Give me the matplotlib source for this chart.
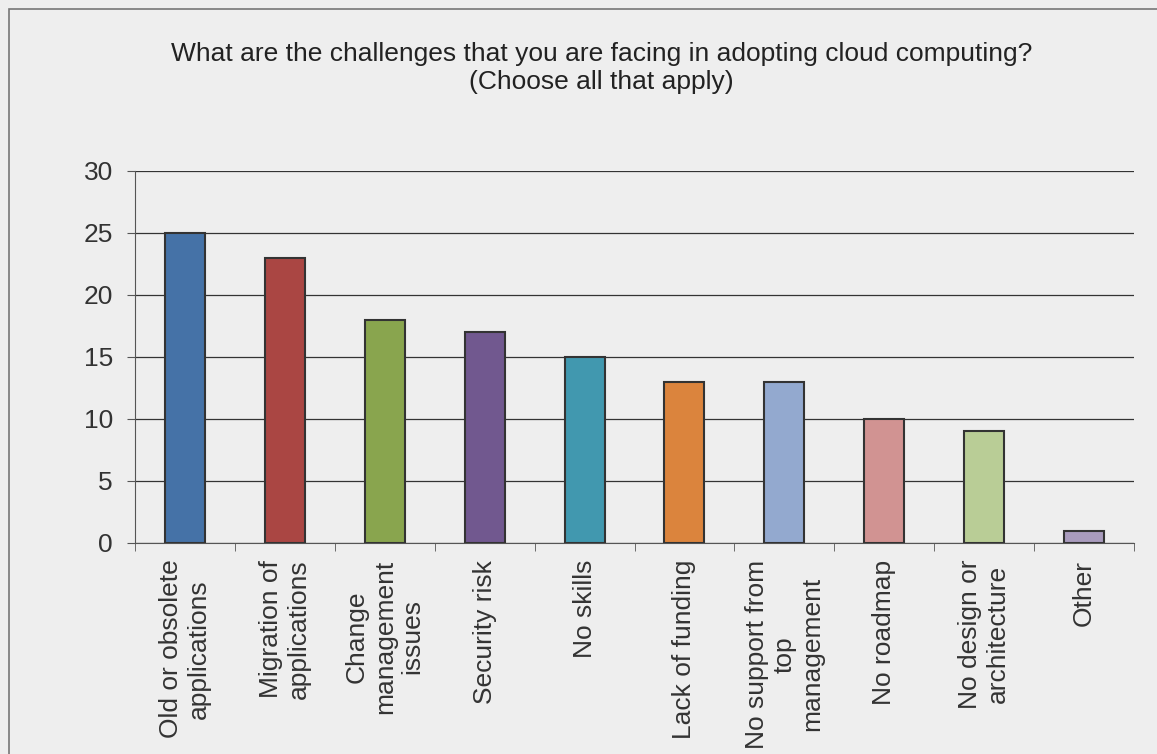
import numpy as np
import matplotlib.pyplot as plt
from matplotlib.patches import Rectangle

categories = ["Old or obsolete\napplications", "Migration of\napplications",
              "Change\nmanagement\nissues", "Security risk", "No skills",
              "Lack of funding", "No support from\ntop\nmanagement",
              "No roadmap", "No design or\narchitecture", "Other"]
counts = [25, 23, 18, 17, 15, 13, 13, 10, 9, 1]
colors = ["#4572A7", "#AA4643", "#89A54E", "#71588F", "#4198AF",
          "#DB843D", "#93A9CF", "#D19392", "#B9CD96", "#A99BBD"]

plt.rcParams['font.family'] = ['Liberation Sans', 'DejaVu Sans']
txt = '#333333'

fig = plt.figure(figsize=(11.57, 7.54), dpi=100)
fig.patch.set_facecolor('#EEEEEE')
fig.patches.append(Rectangle((9/1157, -0.1), 1.2, 1.1 - 9/754, transform=fig.transFigure,
                             fill=False, edgecolor='#777777', lw=1.2))

ax = fig.add_axes([135/1157, 1 - 543/754, 999/1157, 372/754])
ax.set_facecolor('#EEEEEE')
x = np.arange(len(counts))
ax.bar(x, counts, width=0.4, color=colors, edgecolor='#333333', linewidth=1.5, zorder=3)

ax.set_xlim(-0.5, len(counts) - 0.5)
ax.set_ylim(0, 30)
ax.set_yticks(range(0, 31, 5))
ax.yaxis.grid(True, color='#333333', lw=0.9)
ax.set_axisbelow(True)
for s in ['top', 'right']:
    ax.spines[s].set_visible(False)
for s in ['left', 'bottom']:
    ax.spines[s].set_color('#555555')
ax.tick_params(axis='y', length=6, color='#555555', labelsize=19, labelcolor=txt, pad=10)

ax.set_xticks(x)
ax.set_xticklabels(categories, rotation=90, ha='center', va='top',
                   multialignment='center', fontsize=19, color=txt, linespacing=1.2)
ax.tick_params(axis='x', length=0, pad=12)
ax.set_xticks(np.arange(-0.5, len(counts)), minor=True)
ax.tick_params(axis='x', which='minor', length=6, color='#555555')

fig.text(0.52, 1 - 68/754, "What are the challenges that you are facing in adopting cloud computing?\n(Choose all that apply)",
         ha='center', va='center', fontsize=19, color='#222222', linespacing=1.25)

fig.savefig('out.png', dpi=100, facecolor=fig.get_facecolor())
